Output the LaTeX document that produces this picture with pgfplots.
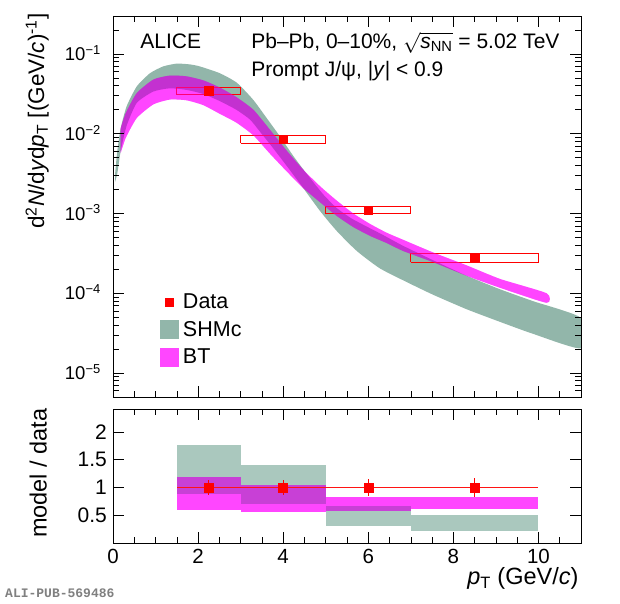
\documentclass[border=0pt]{standalone}
\usepackage{amsmath}
\usepackage{fontspec}
\setmainfont{Liberation Sans}
\setmonofont{Liberation Mono}
\usepackage{pgfplots}
\pgfplotsset{compat=1.18}
\usepackage{pgfplotstable}
\definecolor{shm}{RGB}{146,182,170}
\definecolor{shmr}{RGB}{170,200,190}
\definecolor{btm}{RGB}{255,127,255}
\definecolor{btn}{RGB}{255,0,255}
\definecolor{btl}{RGB}{255,70,255}
\definecolor{ovl}{RGB}{200,64,214}
\definecolor{dred}{RGB}{255,20,20}

% SHMc band: upper edge left->right, then lower edge right->left
\pgfplotstableread{
x y
0.05 3.16e-3
0.10 6.03e-3
0.18 1.17e-2
0.32 2.21e-2
0.56 3.94e-2
0.87 5.75e-2
1.18 7.00e-2
1.50 7.59e-2
1.81 7.41e-2
2.04 7.00e-2
2.51 5.75e-2
2.91 4.37e-2
3.29 2.69e-2
3.61 1.58e-2
3.92 9.33e-3
4.24 5.25e-3
4.55 3.16e-3
4.94 1.74e-3
5.26 1.17e-3
5.60 8.71e-4
5.95 6.92e-4
6.35 5.37e-4
6.80 3.98e-4
7.50 2.63e-4
8.31 1.66e-4
9.10 1.12e-4
9.88 7.94e-5
11.0 4.90e-5
11.0 2.04e-5
9.88 3.09e-5
9.10 4.37e-5
8.31 6.31e-5
7.53 9.55e-5
6.98 1.32e-4
6.28 2.04e-4
5.73 3.39e-4
5.26 6.03e-4
4.87 1.07e-3
4.47 2.09e-3
4.08 3.98e-3
3.69 7.41e-3
3.45 1.07e-2
3.22 1.51e-2
2.90 2.00e-2
2.51 2.57e-2
2.12 3.16e-2
1.73 3.55e-2
1.34 3.72e-2
0.95 3.39e-2
0.56 2.45e-2
0.32 1.26e-2
0.18 6.03e-3
0.10 3.16e-3
0.05 2.51e-3
}\shmc

% BT band
\pgfplotstableread{
x y
0.18 1.17e-2
0.30 1.82e-2
0.56 3.24e-2
0.95 4.79e-2
1.34 5.37e-2
1.73 5.25e-2
2.12 4.68e-2
2.51 3.80e-2
2.90 2.88e-2
3.30 2.00e-2
3.69 1.12e-2
4.08 6.17e-3
4.47 3.55e-3
4.87 2.19e-3
5.26 1.45e-3
5.65 1.00e-3
6.04 7.41e-4
6.43 5.75e-4
6.82 4.68e-4
7.53 3.24e-4
8.31 2.24e-4
9.10 1.51e-4
10.19 1.00e-4
10.19 7.59e-5
9.10 1.17e-4
8.31 1.66e-4
7.53 2.45e-4
6.82 3.39e-4
6.43 4.27e-4
6.04 5.25e-4
5.65 6.76e-4
5.26 9.33e-4
4.87 1.38e-3
4.47 2.09e-3
4.08 3.39e-3
3.69 5.62e-3
3.30 9.55e-3
2.90 1.38e-2
2.51 1.78e-2
2.12 2.29e-2
1.73 2.63e-2
1.34 2.69e-2
0.95 2.34e-2
0.56 1.58e-2
0.30 8.91e-3
0.18 5.75e-3
}\bt

\begin{document}
\begin{tikzpicture}
\path[use as bounding box] (0,0) rectangle (620pt,603pt);

% ---------- ratio panel (drawn first) ----------
\begin{axis}[
  at={(113pt,60pt)}, anchor=south west,
  scale only axis, width=468pt, height=134pt,
  clip mode=individual,
  xmin=0, xmax=11, ymin=0, ymax=2.41,
  xtick={0,2,4,6,8,10},
  minor xtick={0.5,1,1.5,2.5,3,3.5,4.5,5,5.5,6.5,7,7.5,8.5,9,9.5,10.5},
  ytick={0.5,1,1.5,2},
  tick pos=both, tick align=inside,
  major tick length=11pt, minor tick length=6pt,
  every tick/.style={black, line width=0.6pt},
  axis line style={black, line width=0.7pt},
  /pgf/number format/assume math mode=true,
  xticklabel style={font=\fontsize{20.5}{20.5}\selectfont, inner sep=0pt, yshift=-6pt},
  yticklabel style={font=\fontsize{21}{21}\selectfont, inner sep=0pt, xshift=-6pt},
  axis on top,
]
% bin 1.5-3: SHMc 0.89-1.76, BT 0.60-1.18
\addplot[fill=shmr, draw=none] coordinates {(1.5,1.18)(3,1.18)(3,1.76)(1.5,1.76)};
\addplot[fill=ovl, draw=none] coordinates {(1.5,0.89)(3,0.89)(3,1.18)(1.5,1.18)};
\addplot[fill=btl, draw=none] coordinates {(1.5,0.60)(3,0.60)(3,0.89)(1.5,0.89)};
% bin 3-5: SHMc 0.71-1.40, BT 0.55-1.05
\addplot[fill=shmr, draw=none] coordinates {(3,1.05)(5,1.05)(5,1.40)(3,1.40)};
\addplot[fill=ovl, draw=none] coordinates {(3,0.71)(5,0.71)(5,1.05)(3,1.05)};
\addplot[fill=btl, draw=none] coordinates {(3,0.55)(5,0.55)(5,0.71)(3,0.71)};
% bin 5-7: SHMc 0.30-0.67, BT 0.57-0.83
\addplot[fill=shmr, draw=none] coordinates {(5,0.30)(7,0.30)(7,0.57)(5,0.57)};
\addplot[fill=ovl, draw=none] coordinates {(5,0.57)(7,0.57)(7,0.67)(5,0.67)};
\addplot[fill=btl, draw=none] coordinates {(5,0.67)(7,0.67)(7,0.83)(5,0.83)};
% bin 7-10: SHMc 0.21-0.51, BT 0.61-0.82
\addplot[fill=shmr, draw=none] coordinates {(7,0.21)(10,0.21)(10,0.51)(7,0.51)};
\addplot[fill=btl, draw=none] coordinates {(7,0.61)(10,0.61)(10,0.82)(7,0.82)};

% unity reference line (thin filled strip at model/data = 1)
\addplot[fill=dred, draw=none] coordinates {(1.5,0.990)(10,0.990)(10,1.010)(1.5,1.010)};
\addplot[only marks, mark=square*, mark size=4.5pt, color=red,
  error bars/.cd, y dir=both, y explicit, error bar style={red, line width=0.8pt}, error mark=none]
  coordinates {(2.25,1) +- (0,0.14) (4,1) +- (0,0.14) (6,1) +- (0,0.15) (8.5,1) +- (0,0.17)};

\node[anchor=base east, font=\fontsize{23.5}{23.5}\selectfont] at (axis description cs:1.002,-0.313) {\textit{p}\textsubscript{T} (GeV/\textit{c})};
\node[rotate=90, anchor=center, font=\fontsize{23.5}{23.5}\selectfont] at (axis description cs:-0.160,0.52) {model / data};
\end{axis}

\node[anchor=base west, font=\ttfamily\bfseries\fontsize{13}{13}\selectfont, text=gray, inner sep=0pt] at (5pt,6pt) {ALI-PUB-569486};

% ---------- spectrum panel ----------
\begin{axis}[
  at={(113pt,206pt)}, anchor=south west,
  scale only axis, width=468pt, height=381pt,
  clip mode=individual,
  xmin=0, xmax=11,
  ymode=log, ymin=5e-6, ymax=0.30,
  xtick={0,2,4,6,8,10},
  minor xtick={0.5,1,1.5,2.5,3,3.5,4.5,5,5.5,6.5,7,7.5,8.5,9,9.5,10.5},
  xticklabel=\empty,
  ytick={1e-5,1e-4,1e-3,1e-2,1e-1},
  yticklabels={10\textsuperscript{−5},10\textsuperscript{−4},10\textsuperscript{−3},10\textsuperscript{−2},10\textsuperscript{−1}},
  minor ytick={6e-6,7e-6,8e-6,9e-6,2e-5,3e-5,4e-5,5e-5,6e-5,7e-5,8e-5,9e-5,2e-4,3e-4,4e-4,5e-4,6e-4,7e-4,8e-4,9e-4,2e-3,3e-3,4e-3,5e-3,6e-3,7e-3,8e-3,9e-3,2e-2,3e-2,4e-2,5e-2,6e-2,7e-2,8e-2,9e-2,2e-1},
  tick pos=both, tick align=inside,
  major tick length=11pt, minor tick length=6pt,
  every tick/.style={black, line width=0.6pt},
  axis line style={black, line width=0.7pt},
  yticklabel style={font=\fontsize{18.5}{18.5}\selectfont, anchor=base east, inner sep=0pt, xshift=-12pt, yshift=-6.6pt},
  axis on top,
  legend cell align=left,
  legend style={at={(axis description cs:0.1004,0.274)}, anchor=north west,
    draw=none, fill=none, inner sep=0pt, outer sep=0pt,
    font=\fontsize{21.5}{24}\selectfont, row sep=8.5pt, column sep=4pt,
    nodes={inner sep=0pt}},
]
\addlegendimage{legend image code/.code={\path[draw=none, fill=none] (-1pt,-9.5pt) rectangle (18pt,9.5pt);
   \draw[red, mark=square*, mark size=4.2pt, only marks] plot coordinates {(8.5pt,0pt)};}}
\addlegendentry{Data}
\addlegendimage{legend image code/.code={\fill[shm, draw=none] (-1pt,-9.5pt) rectangle (18pt,9.5pt);}}
\addlegendentry{SHMc}
\addlegendimage{legend image code/.code={\fill[btl, draw=none] (-1pt,-9.5pt) rectangle (18pt,9.5pt);}}
\addlegendentry{BT}

\addplot[fill=shm, draw=none, forget plot, smooth, tension=0.35] table {\shmc};

\addplot[draw=red, line width=0.9pt, forget plot] coordinates {(1.5,0.031)(3,0.031)(3,0.0382)(1.5,0.0382)(1.5,0.031)};
\addplot[draw=red, line width=0.9pt, forget plot] coordinates {(3,0.00766)(5,0.00766)(5,0.00962)(3,0.00962)(3,0.00766)};
\addplot[draw=red, line width=0.9pt, forget plot] coordinates {(5,0.00100)(7,0.00100)(7,0.00123)(5,0.00123)(5,0.00100)};
\addplot[draw=red, line width=0.9pt, forget plot] coordinates {(7,2.44e-4)(10,2.44e-4)(10,3.13e-4)(7,3.13e-4)(7,2.44e-4)};

\addplot[fill=btm, draw=none, forget plot, smooth, tension=0.35, blend mode=multiply] table {\bt};
\addplot[fill=btn, fill opacity=0.45, draw=none, forget plot, smooth, tension=0.35] table {\bt};

\addplot[only marks, mark=square*, mark size=4.2pt, red, forget plot] coordinates {(2.25,0.0345)(4,0.0086)(6,0.00111)(8.5,2.76e-4)};

\node[anchor=base west, font=\fontsize{21}{21}\selectfont] at (axis description cs:0.051,0.916) {ALICE};
\node[anchor=base west, font=\fontsize{21}{21}\selectfont] at (axis description cs:0.288,0.916) {Pb--Pb, 0--10\%, $\sqrt{\text{\itshape s}_{\text{NN}}}$ = 5.02 TeV};
\node[anchor=base west, font=\fontsize{21}{21}\selectfont] at (axis description cs:0.288,0.8425) {Prompt J/ψ, |\textit{y}| < 0.9};
\node[rotate=90, anchor=center, font=\fontsize{22.5}{22.5}\selectfont] at (axis description cs:-0.162,0.724) {d\textsuperscript{2}\textit{N}/d\textit{y}d\textit{p}\textsubscript{T} [(GeV/\textit{c})\textsuperscript{-1}]};
\end{axis}
\end{tikzpicture}
\end{document}
